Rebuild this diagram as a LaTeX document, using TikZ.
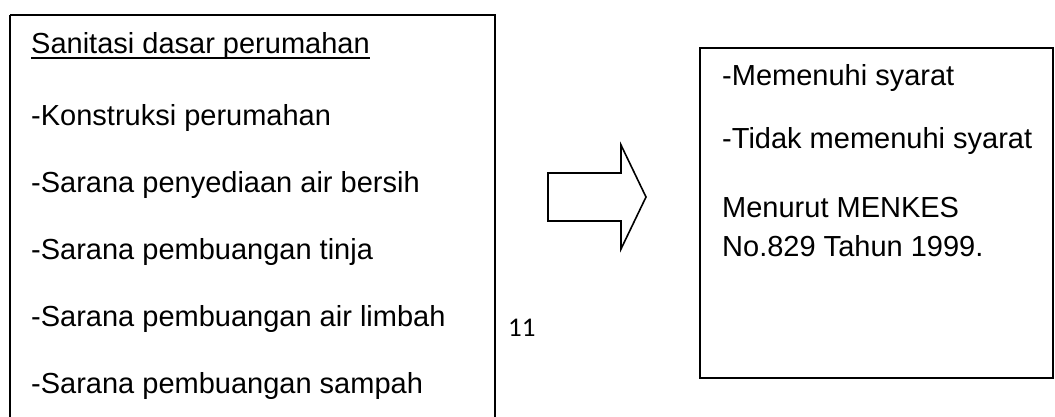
\documentclass[tikz,border=0pt]{standalone}
\usepackage{fontspec}
\setmainfont{Liberation Sans}
\newfontfamily\calibrifont{Carlito}
\begin{document}
\begin{tikzpicture}[x=1pt,y=-1pt,
  frame/.style={draw=black,line width=2pt},
  txt/.style={anchor=base west,inner sep=0pt,font=\fontsize{29}{34}\selectfont},
  arrowshape/.style={draw=black,line width=1.6pt,line join=miter}]
\useasboundingbox (0,0) rectangle (1055,416);
\clip (0,0) rectangle (1055,416);
% left box
\draw[frame] (10,15) -- (495,15) -- (495,430) (10,15) -- (10,430);
\node[txt] (t0) at (31,53) {Sanitasi dasar perumahan};
\draw[line width=1.8pt] ([yshift=-5pt]t0.base west) -- ([yshift=-5pt]t0.base east);
\node[txt] (t1) at (31,125) {-Konstruksi perumahan};
\node[txt] (t2) at (31,192) {-Sarana penyediaan air bersih};
\node[txt] (t3) at (31,259) {-Sarana pembuangan tinja};
\node[txt] (t4) at (31,326) {-Sarana pembuangan air limbah};
\node[txt] (t5) at (31,393) {-Sarana pembuangan sampah};
% page number
\node[txt,font=\calibrifont\fontsize{27}{30}\selectfont] (pn) at (508,336) {11};
% block arrow
\draw[arrowshape] (548,173) -- (621,173) -- (621,145) -- (646,197) -- (621,249) -- (621,221) -- (548,221) -- cycle;
% right box
\draw[frame] (700,48) rectangle (1053,378);
\node[txt] (r1) at (722,85) {-Memenuhi syarat};
\node[txt] (r2) at (722,148) {-Tidak memenuhi syarat};
\node[txt] (r3) at (722,217) {Menurut MENKES};
\node[txt] (r4) at (722,256) {No.829 Tahun 1999.};
\end{tikzpicture}
\end{document}
